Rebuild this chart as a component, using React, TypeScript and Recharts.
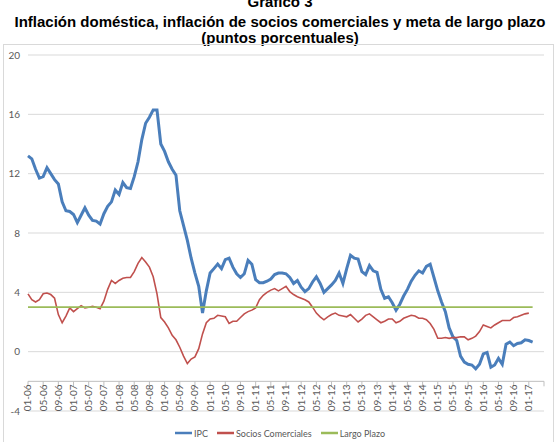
import React from "react";
import {
  LineChart,
  Line,
  XAxis,
  YAxis,
  CartesianGrid,
  ReferenceLine,
  Legend,
} from "recharts";

// ---- Data (monthly, starting 01-2006) ----
const IPC = [
  13.2, 13.0, 12.3, 11.7, 11.8, 12.4, 12.0, 11.6, 11.3, 10.1, 9.5, 9.45,
  9.25, 8.7, 9.2, 9.7, 9.2, 8.85, 8.8, 8.6, 9.3, 9.8, 10.1, 10.9,
  10.6, 11.4, 11.05, 11.0, 11.8, 12.8, 14.3, 15.4, 15.8, 16.3, 16.3, 14.0,
  13.5, 12.8, 12.3, 11.9, 9.5, 8.5, 7.5, 6.3, 5.3, 4.4, 2.6, 4.1,
  5.3, 5.6, 5.9, 5.6, 6.2, 6.3, 5.7, 5.25, 5.0, 5.25, 6.15, 5.9,
  4.85, 4.65, 4.65, 4.75, 4.9, 5.2, 5.3, 5.3, 5.25, 5.0, 4.6, 4.8,
  4.35, 4.05, 4.25, 4.7, 5.05, 4.6, 4.0, 4.25, 4.5, 4.8, 5.3, 4.6,
  5.6, 6.5, 6.3, 6.25, 5.4, 5.2, 5.8, 5.45, 5.35, 4.2, 3.6, 3.7,
  3.3, 2.8, 3.2, 3.75, 4.2, 4.75, 5.15, 5.45, 5.3, 5.75, 5.9, 5.0,
  4.1, 3.35, 2.7, 1.6, 1.0, 0.75, -0.3, -0.7, -0.85, -0.9, -1.15, -0.85,
  -0.15, -0.05, -1.05, -0.9, -0.45, -0.85, 0.5, 0.65, 0.4, 0.55, 0.6, 0.8,
  0.75, 0.65,
];

const SOCIOS_COMERCIALES = [
  3.9, 3.5, 3.35, 3.5, 3.9, 3.95, 3.85, 3.6, 2.5, 1.95, 2.4, 2.95,
  2.7, 2.9, 3.1, 2.95, 3.0, 3.05, 3.0, 2.9, 3.4, 4.2, 4.8, 4.6,
  4.8, 4.95, 5.0, 5.0, 5.4, 5.95, 6.35, 6.05, 5.7, 5.05, 3.9, 2.3,
  2.0, 1.6, 1.1, 0.8, 0.3, -0.3, -0.8, -0.5, -0.35, 0.2, 1.2, 1.95,
  2.2, 2.25, 2.45, 2.4, 2.35, 1.9, 2.05, 2.05, 2.3, 2.55, 2.7, 2.8,
  2.95, 3.5, 3.8, 4.0, 4.15, 4.25, 4.1, 4.25, 4.4, 4.05, 3.85, 3.7,
  3.6, 3.5, 3.35, 3.0, 2.6, 2.35, 2.15, 2.35, 2.5, 2.6, 2.45, 2.4,
  2.35, 2.5, 2.25, 2.0, 2.2, 2.45, 2.55, 2.35, 2.15, 1.95, 2.05, 2.2,
  2.2, 1.95, 2.05, 2.25, 2.35, 2.45, 2.4, 2.25, 2.25, 2.15, 1.9, 1.5,
  0.9, 0.9, 0.95, 0.9, 0.95, 0.95, 1.0, 1.0, 0.8, 0.9, 1.05, 1.35,
  1.8, 1.7, 1.6, 1.8, 1.95, 2.1, 2.1, 2.1, 2.3, 2.35, 2.45, 2.55,
  2.6,
];

// Long-term target (constant over the whole period)
const META_LARGO_PLAZO = 3;
const META_MONTHS = 134;

const TICK_LABELS = [
  "01-06", "05-06", "09-06", "01-07", "05-07", "09-07", "01-08", "05-08",
  "09-08", "01-09", "05-09", "09-09", "01-10", "05-10", "09-10", "01-11",
  "05-11", "09-11", "01-12", "05-12", "09-12", "01-13", "05-13", "09-13",
  "01-14", "05-14", "09-14", "01-15", "05-15", "09-15", "01-16", "05-16",
  "09-16", "01-17",
];
const TICK_STEP = 4; // months between labels

const Y_TICKS = [-4, 0, 4, 8, 12, 16, 20];
const Y_MIN = -4;
const Y_MAX = 20;
const AXIS_CROSS = -2;

const SERIES_ORDER = ["IPC", "Socios Comerciales", "Largo Plazo"];

// ---- Layout ----
const CHART_W = 549;
const CHART_H = 400;
const MARGIN = { top: 10, right: 9, left: 0, bottom: 0 };
const XAXIS_H = 10;
const LEGEND_H = 24;
const PLOT_H = CHART_H - MARGIN.top - MARGIN.bottom - XAXIS_H - LEGEND_H;
const AXIS_Y = MARGIN.top + (PLOT_H * (Y_MAX - AXIS_CROSS)) / (Y_MAX - Y_MIN);

const FONT = "Lato, 'Liberation Sans', sans-serif";
const GRAY = "#595959";

const nMonths = Math.max(IPC.length, SOCIOS_COMERCIALES.length, META_MONTHS);
const data = Array.from({ length: nMonths }, (_, i) => ({
  i,
  ipc: IPC[i],
  socios: SOCIOS_COMERCIALES[i],
  largo: i < META_MONTHS ? META_LARGO_PLAZO : undefined,
}));

const X_END = TICK_LABELS.length * TICK_STEP;
const X_TICKS = [...TICK_LABELS.map((_, k) => k * TICK_STEP), X_END];

const XTick = (props: any) => {
  const { x, payload } = props;
  const label = TICK_LABELS[payload.value / TICK_STEP];
  const ty = AXIS_Y + 3;
  return (
    <g>
      <line x1={x} x2={x} y1={AXIS_Y} y2={AXIS_Y + 5} stroke="#bfbfbf" />
      {label && (
        <text
          x={x}
          y={ty}
          transform={`rotate(-90 ${x} ${ty})`}
          textAnchor="end"
          dy="0.35em"
          fill={GRAY}
          fontSize={10}
          fontFamily={FONT}
        >
          {label}
        </text>
      )}
    </g>
  );
};

const LegendContent = (props: any) => {
  const items = [...(props.payload || [])].sort(
    (a: any, b: any) => SERIES_ORDER.indexOf(a.value) - SERIES_ORDER.indexOf(b.value)
  );
  return (
    <div
      style={{
        display: "flex",
        justifyContent: "center",
        alignItems: "center",
        height: LEGEND_H,
        paddingLeft: 12,
        boxSizing: "border-box",
        fontSize: 9,
        fontFamily: FONT,
        color: GRAY,
      }}
    >
      {items.map((e: any) => (
        <span
          key={e.value}
          style={{ display: "inline-flex", alignItems: "center", margin: "0 4.5px" }}
        >
          <svg width={17} height={4} style={{ display: "block" }}>
            <line x1={0} x2={17} y1={2} y2={2} stroke={e.color} strokeWidth={2.5} />
          </svg>
          <span style={{ marginLeft: 2 }}>{e.value}</span>
        </span>
      ))}
    </div>
  );
};

export default function App() {
  return (
    <div
      style={{
        position: "absolute",
        left: 0,
        top: 0,
        width: 560,
        height: 442,
        overflow: "hidden",
        fontFamily: "'Liberation Sans', Arial, sans-serif",
        background: "#fff",
      }}
    >
      {[
        { t: "Gráfico 3", top: -6 },
        {
          t: "Inflación doméstica, inflación de socios comerciales y meta de largo plazo",
          top: 14,
        },
        { t: "(puntos porcentuales)", top: 30 },
      ].map((l) => (
        <div
          key={l.t}
          style={{
            position: "absolute",
            left: 0,
            width: 560,
            top: l.top,
            textAlign: "center",
            fontWeight: "bold",
            fontSize: 15,
            lineHeight: "16px",
            color: "#000",
            whiteSpace: "nowrap",
          }}
        >
          {l.t}
        </div>
      ))}
      <div
        style={{
          position: "absolute",
          left: 3,
          top: 44,
          width: CHART_W,
          height: CHART_H + 10,
          border: "1px solid #d9d9d9",
        }}
      >
        <LineChart width={CHART_W} height={CHART_H} data={data} margin={MARGIN}>
          <CartesianGrid horizontal vertical={false} stroke="#d9d9d9" />
          <XAxis
            dataKey="i"
            type="number"
            domain={[0, X_END]}
            ticks={X_TICKS}
            interval={0}
            axisLine={false}
            tickLine={false}
            height={XAXIS_H}
            tick={<XTick />}
          />
          <YAxis
            type="number"
            domain={[Y_MIN, Y_MAX]}
            ticks={Y_TICKS}
            interval={0}
            width={24}
            axisLine={false}
            tickLine={false}
            tickSize={0}
            tickMargin={8}
            tick={{ fill: GRAY, fontSize: 10, fontFamily: FONT }}
          />
          <ReferenceLine y={AXIS_CROSS} stroke="#bfbfbf" />
          <Line
            dataKey="ipc"
            name="IPC"
            stroke="#4a7ebb"
            strokeWidth={3}
            dot={false}
            isAnimationActive={false}
          />
          <Line
            dataKey="socios"
            name="Socios Comerciales"
            stroke="#c0504d"
            strokeWidth={1.6}
            dot={false}
            isAnimationActive={false}
          />
          <Line
            dataKey="largo"
            name="Largo Plazo"
            stroke="#9bbb59"
            strokeWidth={1.6}
            dot={false}
            isAnimationActive={false}
          />
          <Legend verticalAlign="bottom" height={LEGEND_H} content={<LegendContent />} />
        </LineChart>
      </div>
    </div>
  );
}
